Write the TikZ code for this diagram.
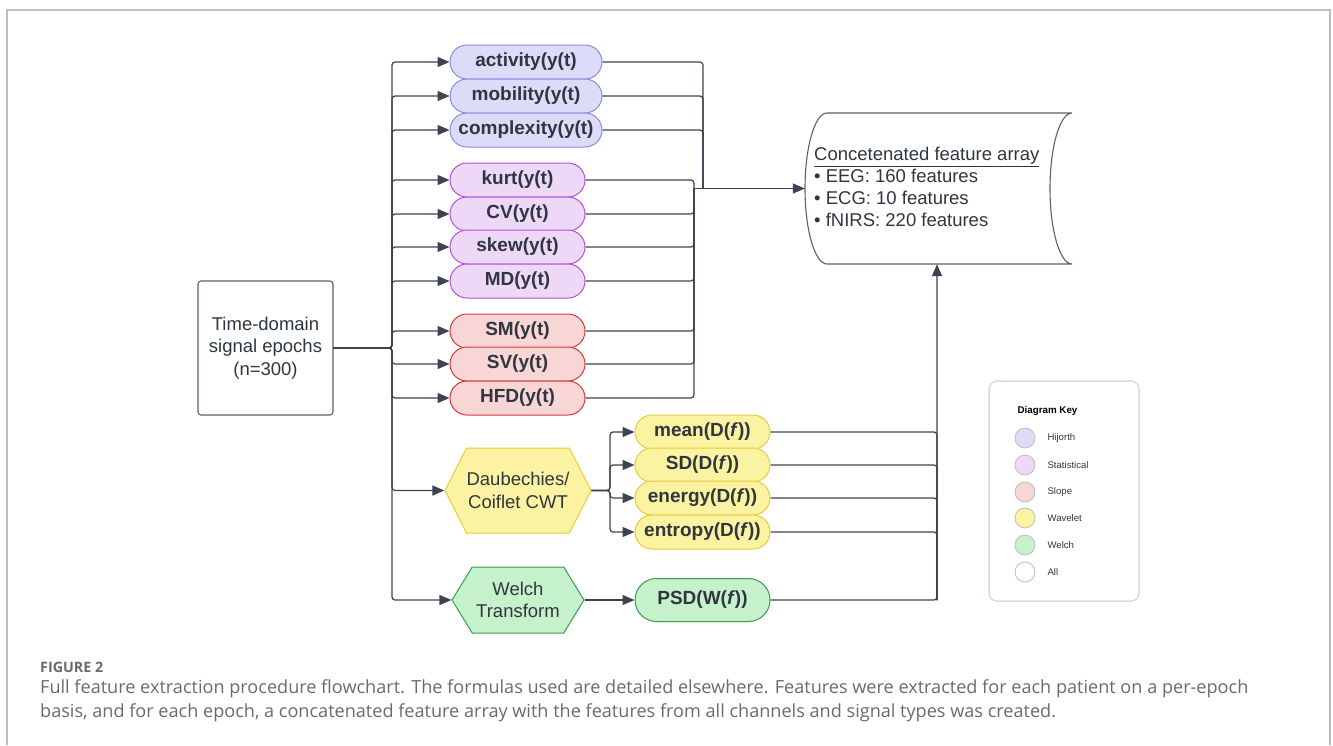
\documentclass[tikz,border=0pt]{standalone}
\usepackage{fontspec}
\setmainfont{Liberation Sans}
\newfontfamily\capfont{Open Sans}
\usetikzlibrary{arrows.meta,shapes.symbols,calc}
\definecolor{ln}{HTML}{3D4350}
\definecolor{txt}{HTML}{30363F}
\definecolor{hjF}{HTML}{DCDCF8}\definecolor{hjD}{HTML}{8A8AE8}
\definecolor{stF}{HTML}{EED8F8}\definecolor{stD}{HTML}{B44FE0}
\definecolor{slF}{HTML}{F8D6D6}\definecolor{slD}{HTML}{D23A3A}
\definecolor{wvF}{HTML}{FCF3A2}\definecolor{wvD}{HTML}{E6CC3A}
\definecolor{wlF}{HTML}{C6F2CB}\definecolor{wlD}{HTML}{3E9A4E}
\definecolor{frame}{HTML}{BDBDBD}
\definecolor{keyD}{HTML}{D3DCE0}
\definecolor{capc}{HTML}{6A6A6A}
\tikzset{
  pill/.style={draw, rounded corners=17pt, minimum height=34pt, inner sep=0pt,
    font=\fontsize{19}{22}\selectfont\bfseries, text=txt, line width=1pt},
  hj/.style={pill, fill=hjF, draw=hjD, minimum width=152pt},
  st/.style={pill, fill=stF, draw=stD, minimum width=135pt},
  sl/.style={pill, fill=slF, draw=slD, minimum width=135pt},
  wv/.style={pill, fill=wvF, draw=wvD, minimum width=135pt},
  wl/.style={pill, fill=wlF, draw=wlD, minimum width=135pt},
  hexa/.style={shape=signal, signal to=west and east, inner sep=0pt,
    font=\fontsize{18.5}{22.5}\selectfont, text=txt, align=center, line width=1pt},
  lnk/.style={draw=ln, line width=1.2pt, rounded corners=3pt},
  arr/.style={lnk, -{Triangle[length=12pt,width=10pt]}},
  keycirc/.style={circle, draw=frame, line width=0.8pt, minimum size=20pt, inner sep=0pt},
  keylbl/.style={anchor=west, font=\fontsize{9.6}{12}\selectfont, text=txt},
}
\begin{document}
\begin{tikzpicture}[x=1pt,y=-1pt]
\useasboundingbox (0,0) rectangle (1333,745);
% outer frame
\draw[frame, line width=1.3pt] (7,745) -- (7,10) -- (1330,10) -- (1330,745);

% source box
\node[draw=ln!85, line width=1.1pt, rounded corners=3pt, minimum width=135pt, minimum height=134pt,
  align=center, font=\fontsize{18.5}{22.5}\selectfont, text=txt] (tde) at (265.5,348) {Time-domain\\signal epochs\\(n=300)};

% Hjorth
\node[hj] (act) at (526,62) {activity(y(t)};
\node[hj] (mob) at (526,96) {mobility(y(t)};
\node[hj] (cpx) at (526,130) {complexity(y(t)};
% statistical
\node[st] (kurt) at (517.5,180) {kurt(y(t)};
\node[st] (cv) at (517.5,214) {CV(y(t)};
\node[st] (skew) at (517.5,247) {skew(y(t)};
\node[st] (md) at (517.5,281) {MD(y(t)};
% slope
\node[sl] (sm) at (517.5,331) {SM(y(t)};
\node[sl] (sv) at (517.5,364) {SV(y(t)};
\node[sl] (hfd) at (517.5,398) {HFD(y(t)};
% wavelet
\node[hexa, fill=wvF, draw=wvD, signal pointer angle=126, minimum width=132pt, minimum height=85pt] (cwt) at (518,490.5) {Daubechies/\\Coiflet CWT};
\node[wv] (mean) at (702.5,432) {mean(D(\textit{f}))};
\node[wv] (sd) at (702.5,465) {SD(D(\textit{f}))};
\node[wv] (energy) at (702.5,498) {energy(D(\textit{f}))};
\node[wv] (entropy) at (702.5,532) {entropy(D(\textit{f}))};
% welch
\node[hexa, fill=wlF, draw=wlD, signal pointer angle=117, minimum width=132pt, minimum height=66pt] (welch) at (518,600) {Welch\\Transform};
\node[wl, minimum height=43pt, rounded corners=21.5pt] (psd) at (702.5,600) {PSD(W(\textit{f}))};

% concatenated feature array (cylinder)
\node[minimum width=267pt, minimum height=151pt, inner sep=0pt] (cyl) at (938.5,188.5) {};
\draw[draw=ln!85, line width=1.1pt] (827,113) -- (1072,113)
  .. controls (1059.9,113) and (1050,146.8) .. (1050,188.5)
  .. controls (1050,230.2) and (1059.9,264) .. (1072,264)
  -- (827,264)
  .. controls (814.9,264) and (805,230.2) .. (805,188.5)
  .. controls (805,146.8) and (814.9,113) .. (827,113) -- cycle;
\node[anchor=west, align=left, inner sep=0pt, font=\fontsize{18.5}{22}\selectfont, text=txt] (cyltext) at (814,187)
  {\underline{Concetenated feature array}\\\textbullet{} EEG: 160 features\\\textbullet{} ECG: 10 features\\\textbullet{} fNIRS: 220 features};

% connectors from source
\coordinate (tj) at (392,348);
\foreach \n in {act,mob,cpx,kurt,cv,skew,md,sm,sv,hfd,cwt,welch}
  \draw[arr] (tde.east) -- (tj) |- (\n.west);

% merging to array
\coordinate (hjn) at (703,188.5);
\coordinate (sjn) at (694,188.5);
\foreach \n in {act,mob,cpx} \draw[lnk] (\n.east) -| (hjn);
\foreach \n in {kurt,cv,skew,md,sm,sv,hfd} \draw[lnk] (\n.east) -| (sjn);
\draw[arr] (sjn) -- (cyl.west);

% wavelet branches
\coordinate (wb) at (610,490.5);
\foreach \n in {mean,sd,energy,entropy} \draw[arr] (cwt.east) -- (wb) |- (\n.west);
\coordinate (vj) at (937,600);
\foreach \n in {mean,sd,energy,entropy} \draw[lnk] (\n.east) -| (vj);
\draw[arr] (welch.east) -- (psd.west);
\draw[arr] (psd.east) -| (vj |- cyl.south);

% key
\node[draw=keyD, line width=1.5pt, rounded corners=8pt, minimum width=150pt, minimum height=220pt] (key) at (1064,491) {};
\node[anchor=west, font=\fontsize{9.8}{12}\selectfont\bfseries, text=black] (keyt) at (1014,411) {Diagram Key};
\node[keycirc, fill=hjF] (k1) at (1025,438) {};
\node[keycirc, fill=stF] (k2) at (1025,465) {};
\node[keycirc, fill=slF] (k3) at (1025,492) {};
\node[keycirc, fill=wvF] (k4) at (1025,518) {};
\node[keycirc, fill=wlF] (k5) at (1025,545) {};
\node[keycirc, fill=white] (k6) at (1025,572) {};
\node[keylbl] (l1) at (1044,438) {Hijorth};
\node[keylbl] (l2) at (1044,465) {Statistical};
\node[keylbl] (l3) at (1044,492) {Slope};
\node[keylbl] (l4) at (1044,518) {Wavelet};
\node[keylbl] (l5) at (1044,545) {Welch};
\node[keylbl] (l6) at (1044,572) {All};

% caption
\node[anchor=west, inner sep=0pt, font=\capfont\fontsize{14.3}{16}\selectfont\bfseries, text=capc] (figlbl) at (40,667) {FIGURE 2};
\node[anchor=west, inner sep=0pt, font=\capfont\fontsize{18.1}{20}\selectfont, text=capc] (cap1) at (40,689) {Full feature extraction procedure flowchart. The formulas used are detailed elsewhere. Features were extracted for each patient on a per-epoch};
\node[anchor=west, inner sep=0pt, font=\capfont\fontsize{18.1}{20}\selectfont, text=capc] (cap2) at (40,713) {basis, and for each epoch, a concatenated feature array with the features from all channels and signal types was created.};
\end{tikzpicture}
\end{document}
